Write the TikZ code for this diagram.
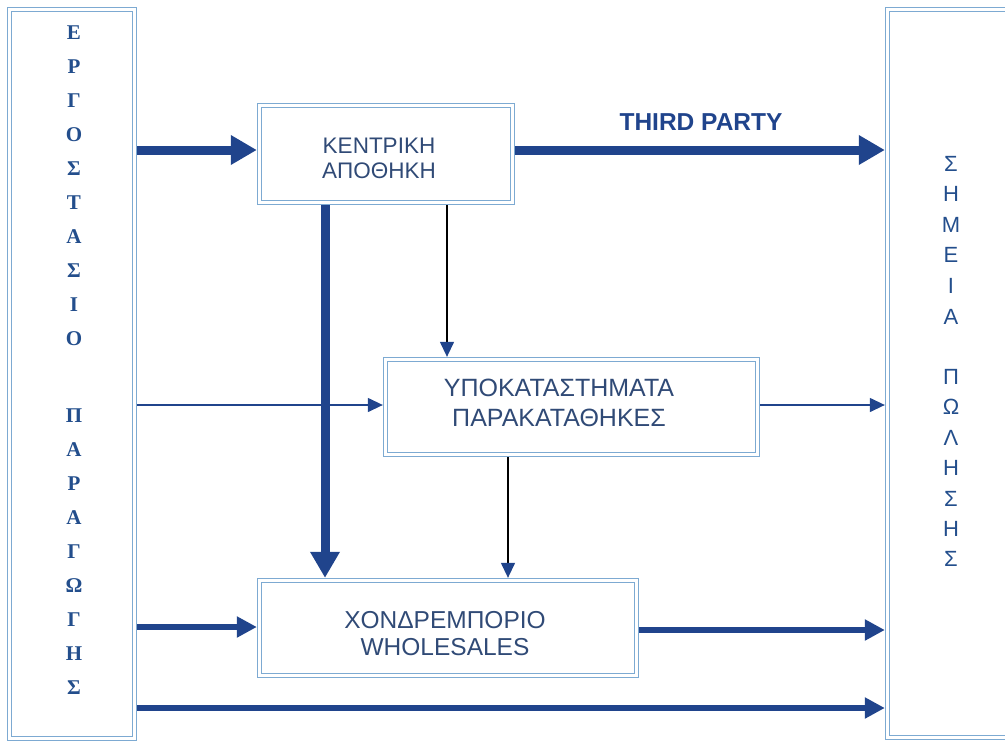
\documentclass[tikz,border=0pt]{standalone}
\usepackage{fontspec}
\setmainfont{Liberation Sans}
\newfontfamily\serifbold{Liberation Serif}
\usetikzlibrary{arrows.meta}
\definecolor{framecol}{RGB}{125,170,210}
\definecolor{arrowblue}{RGB}{32,68,140}
\definecolor{txtblue}{RGB}{48,74,118}
\definecolor{letterblue}{RGB}{35,78,140}
\begin{document}
\begin{tikzpicture}[x=1pt,y=-1pt,
  box/.style={draw=framecol, double=white, double distance=3.5pt, line width=0.9pt,
    outer sep=2.65pt, inner sep=0pt},
  boxtext/.style={align=center, text=txtblue, inner sep=0pt},
  lletter/.style={anchor=base, text=letterblue, font=\serifbold\bfseries\fontsize{21}{22}\selectfont, inner sep=0pt},
  rletter/.style={anchor=base, text=letterblue, font=\fontsize{22}{23}\selectfont, inner sep=0pt},
  thickarrow/.style={draw=arrowblue, line width=9pt, -{Triangle[length=26pt,width=28pt]}},
  medarrow/.style={draw=arrowblue, line width=5.5pt, -{Triangle[length=20pt,width=20pt]}},
  thinarrow/.style={draw=arrowblue, line width=1.3pt, -{Triangle[length=15pt,width=14pt]}},
  thinblack/.style={draw=black, line width=1.3pt, -{Triangle[length=15pt,width=14pt,color=arrowblue]}}
]
\useasboundingbox (0,0) rectangle (1005,742);

% frames
\node[box, minimum width=125pt, minimum height=729pt] (factory) at (72,374) {};
\node[box, minimum width=130pt, minimum height=728pt] (points) at (952.5,373.5) {};

\node[box, minimum width=253pt, minimum height=97pt] (box1) at (386,154) {};
\node[box, minimum width=372pt, minimum height=95pt] (box2) at (571.5,407) {};
\node[box, minimum width=377pt, minimum height=95pt] (box3) at (448,628) {};

\node[boxtext, font=\fontsize{22.5}{25}\selectfont] (t1) at (379,158) {ΚΕΝΤΡΙΚΗ\\ΑΠΟΘΗΚΗ};
\node[boxtext, font=\fontsize{25}{30}\selectfont] (t2) at (559,403) {ΥΠΟΚΑΤΑΣΤΗΜΑΤΑ\\ΠΑΡΑΚΑΤΑΘΗΚΕΣ};
\node[boxtext, font=\fontsize{24.5}{27}\selectfont] (t3) at (445,634) {ΧΟΝΔΡΕΜΠΟΡΙΟ\\WHOLESALES};

\node[text=arrowblue, font=\bfseries\fontsize{24.5}{26}\selectfont, inner sep=0pt] (tp) at (701,122) {THIRD PARTY};

% vertical letters
\foreach \c [count=\i from 0] in {Ε,Ρ,Γ,Ο,Σ,Τ,Α,Σ,Ι,Ο}
  \node[lletter] (fa\i) at (74,39+34*\i) {\c};
\foreach \c [count=\i from 0] in {Π,Α,Ρ,Α,Γ,Ω,Γ,Η,Σ}
  \node[lletter] (fb\i) at (74,422+34.1*\i) {\c};
\foreach \c [count=\i from 0] in {Σ,Η,Μ,Ε,Ι,Α}
  \node[rletter] (pa\i) at (951,171+30.6*\i) {\c};
\foreach \c [count=\i from 0] in {Π,Ω,Λ,Η,Σ,Η,Σ}
  \node[rletter] (pb\i) at (951,384.5+30.4*\i) {\c};

% helper coordinates
\coordinate (r150) at (0,150);
\coordinate (r405) at (0,405);
\coordinate (r627) at (0,627);
\coordinate (r630) at (0,630);
\coordinate (r708) at (0,708);
\coordinate (c325) at (325,0);
\coordinate (c447) at (447,0);
\coordinate (c508) at (508,0);

% connectors
\draw[thickarrow] (factory.east |- r150) -- (box1.west |- r150);
\draw[thickarrow] (box1.east |- r150) -- (points.west |- r150);
\draw[thickarrow] (box1.south -| c325) -- (box3.north -| c325);
\draw[thinblack] (box1.south -| c447) -- (box2.north -| c447);
\draw[thinblack] (box2.south -| c508) -- (box3.north -| c508);
\draw[thinarrow] (factory.east |- r405) -- (box2.west |- r405);
\draw[thinarrow] (box2.east |- r405) -- (points.west |- r405);
\draw[medarrow] (factory.east |- r627) -- (box3.west |- r627);
\draw[medarrow] (box3.east |- r630) -- (points.west |- r630);
\draw[medarrow] (factory.east |- r708) -- (points.west |- r708);
\end{tikzpicture}
\end{document}
